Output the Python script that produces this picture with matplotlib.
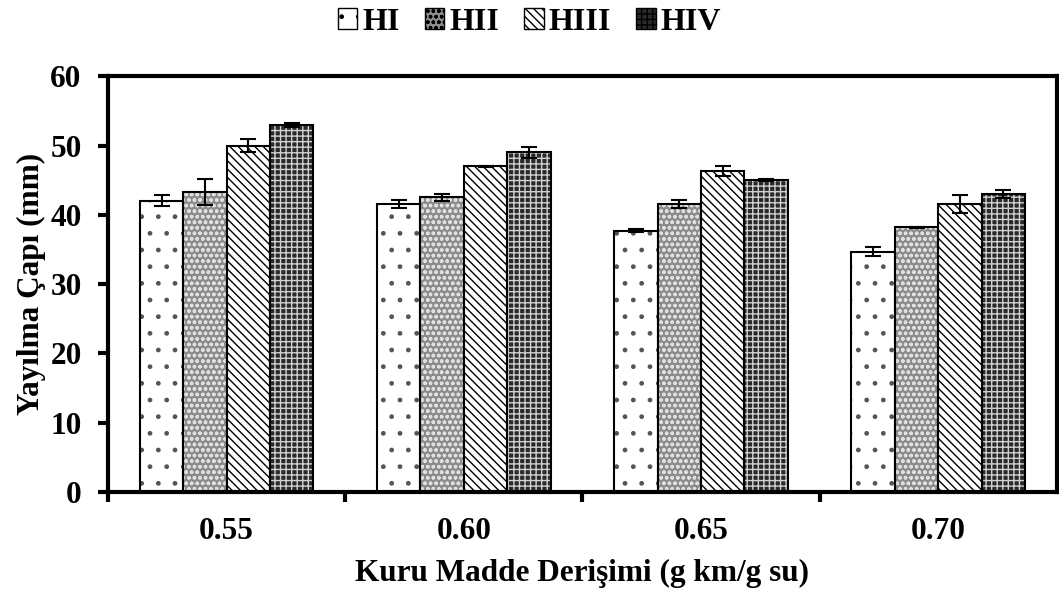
import numpy as np
import matplotlib
matplotlib.use("Agg")
import matplotlib.pyplot as plt
from matplotlib.patches import Patch

# data
categories = ["0.55", "0.60", "0.65", "0.70"]
series = ["HI", "HII", "HIII", "HIV"]
values = {
    "HI":   [42.0, 41.6, 37.7, 34.7],
    "HII":  [43.3, 42.5, 41.6, 38.2],
    "HIII": [50.0, 47.0, 46.3, 41.6],
    "HIV":  [53.0, 49.0, 45.0, 43.0],
}
errors = {
    "HI":   [0.8, 0.6, 0.2, 0.6],
    "HII":  [1.9, 0.5, 0.6, 0.1],
    "HIII": [1.0, 0.1, 0.7, 1.3],
    "HIV":  [0.3, 0.8, 0.1, 0.6],
}

# fill colour, hatch, hatch colour
styles = {
    "HI":   ("white", ".", "#555555"),
    "HII":  ("#8c8c8c", "ooo", "#e0e0e0"),
    "HIII": ("white", "\\\\\\\\", "black"),
    "HIV":  ("#2a2a2a", "+++", "#d0d0d0"),
}

plt.rcParams['font.family'] = ['Liberation Serif', 'DejaVu Serif']
plt.rcParams['font.weight'] = 'bold'
plt.rcParams['hatch.linewidth'] = 1.0

fs = 22.5

fig = plt.figure(figsize=(10.59, 6), dpi=100)
ax = fig.add_axes([0.102, 0.18, 0.896, 0.693])

x = np.arange(len(categories))
w = 0.183
offsets = (np.arange(len(series)) - 1.5) * w

handles = []
for i, s in enumerate(series):
    fc, hatch, hc = styles[s]
    # hatch layer (hatch colour follows edgecolor)
    ax.bar(x + offsets[i], values[s], w, color=fc, edgecolor=hc, hatch=hatch,
           linewidth=0, zorder=2)
    # outline
    ax.bar(x + offsets[i], values[s], w, fill=False, edgecolor="black",
           linewidth=1.5, zorder=3)
    ax.errorbar(x + offsets[i], values[s], yerr=errors[s], fmt="none",
                ecolor="black", elinewidth=1.5, capsize=6, capthick=1.5, zorder=4)
    handles.append(Patch(facecolor=fc, edgecolor=hc, hatch=hatch, linewidth=0))

ax.set_xlim(-0.5, len(categories) - 0.5)
ax.set_ylim(0, 60)
ax.set_yticks(np.arange(0, 61, 10))
ax.set_xticks(x)
ax.set_xticklabels(categories)
ax.set_xticks(np.arange(-0.5, len(categories) - 0.5, 1), minor=True)
ax.tick_params(axis="x", which="major", length=0, pad=18, labelsize=fs)
ax.tick_params(axis="x", which="minor", length=7, width=3)
ax.tick_params(axis="y", length=7, width=3, labelsize=fs, pad=12)
for sp in ax.spines.values():
    sp.set_linewidth(3)

ax.set_ylabel("Yayılma Çapı (mm)", fontsize=fs, fontweight="bold", labelpad=3)
ax.set_xlabel("Kuru Madde Derişimi (g km/g su)", fontsize=fs, fontweight="bold", labelpad=9)

leg = fig.legend(handles, series, loc="upper center", bbox_to_anchor=(0.5, 1.035),
                 ncol=4, frameon=False, fontsize=23, handlelength=0.6, handleheight=0.6,
                 handletextpad=0.15, columnspacing=0.8)
for p in leg.get_patches():
    p.set_linewidth(1)
    p.set_edgecolor("black")

fig.savefig("out.png", dpi=100)
